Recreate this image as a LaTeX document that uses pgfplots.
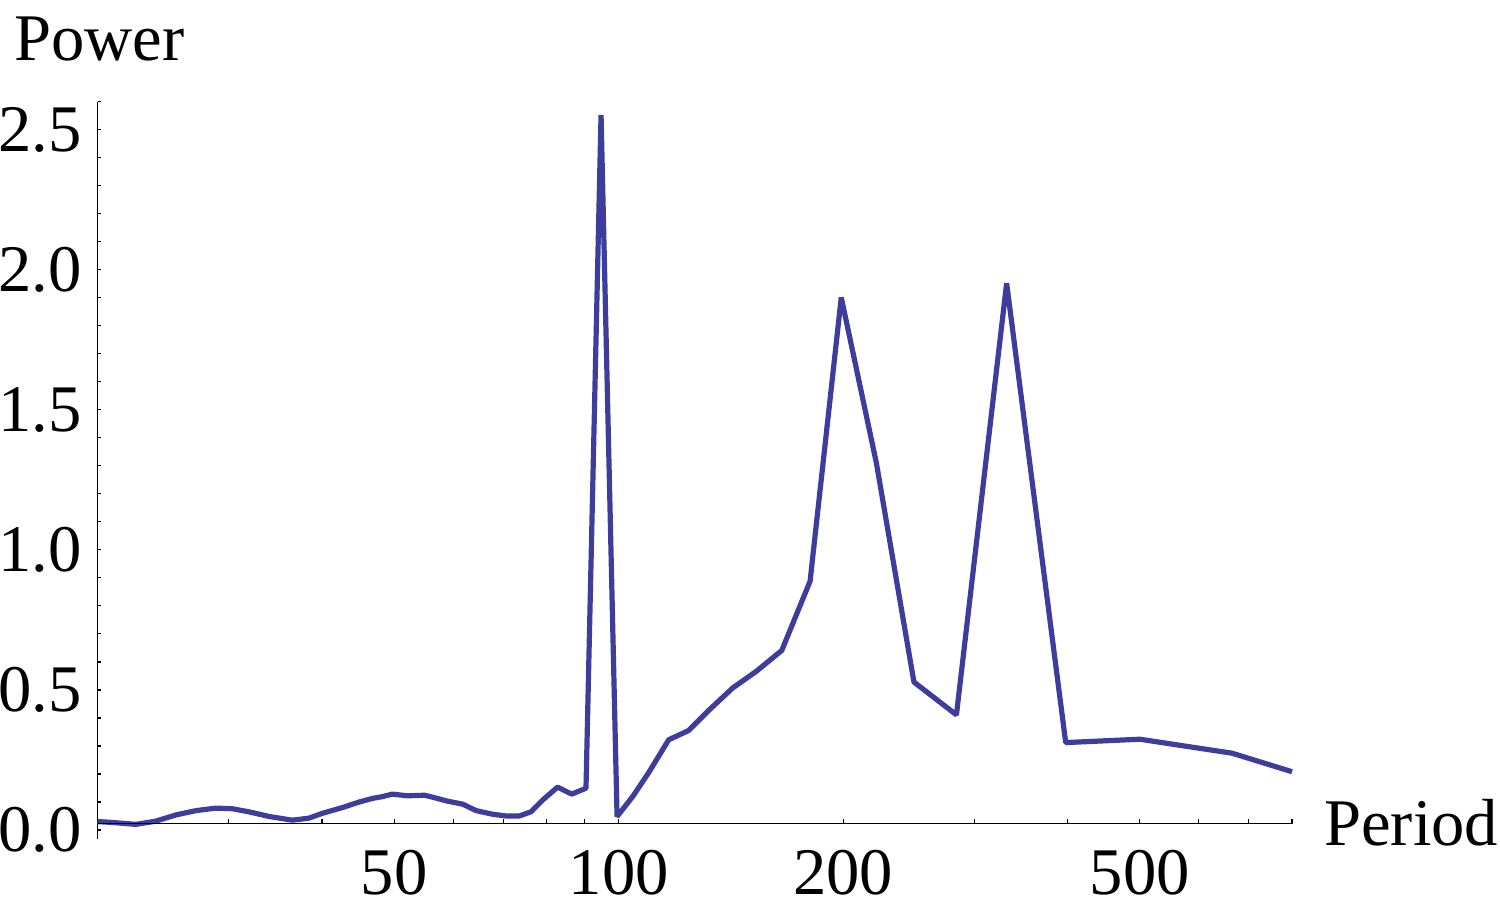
\documentclass[border=0pt]{standalone}
\usepackage{fontspec}
\setmainfont{Liberation Serif}
\usepackage{pgfplots}
\pgfplotsset{compat=1.18}
\definecolor{mmablue}{RGB}{61,61,155}
\begin{document}
\begin{tikzpicture}[font=\fontsize{33.3}{40}\selectfont]
\useasboundingbox (-48.75pt,-38pt) rectangle (701.25pt,419.5pt);
\begin{axis}[
  at={(0pt,0pt)}, anchor=south west,
  scale only axis, width=597.25pt, height=368.65pt,
  xmode=log, xmin=20, xmax=800,
  ymin=-0.0322, ymax=2.6,
  axis x line=none, axis y line=left,
  xtick=\empty,
  axis line style={-, line width=0.65pt, black},
  ytick={0,0.5,1,1.5,2,2.5},
  yticklabels={0.0,0.5,1.0,1.5,2.0,2.5},
  minor ytick={0.1,0.2,0.3,0.4,0.6,0.7,0.8,0.9,1.1,1.2,1.3,1.4,1.6,1.7,1.8,1.9,2.1,2.2,2.3,2.4,2.6},
  tick align=inside, major tick length=1.8pt, minor tick length=1.8pt,
  tick style={line width=0.6pt, black},
  yticklabel style={anchor=east, inner sep=0pt, xshift=-7.8pt, font=\fontsize{33.3}{40}\selectfont},
  clip=false,
]
\addplot[color=mmablue, line width=2.6pt, line join=bevel] coordinates {
(20,0.030) (20.9,0.027) (22.5,0.020) (23.9,0.031) (25.5,0.054) (27.1,0.069)
(28.8,0.078) (30.3,0.076) (31.9,0.065) (34.0,0.048) (36.5,0.035) (38.4,0.042)
(40.1,0.060) (42.6,0.080) (44.9,0.100) (46.8,0.113) (48.2,0.119) (49.7,0.128)
(52.1,0.122) (54.9,0.124) (56.3,0.117) (58.7,0.104) (61.8,0.092) (64.4,0.069)
(67.8,0.056) (70.6,0.050) (73.6,0.050) (76.3,0.065) (79.1,0.107) (82.8,0.153)
(86.5,0.128) (90.4,0.149) (94.7,2.553) (99.5,0.048) (104.4,0.119) (109.9,0.208)
(116.7,0.322) (124.1,0.355) (132.3,0.429) (142.2,0.507) (152.9,0.566) (165.5,0.641)
(180.6,0.888) (198.9,1.901) (221.6,1.311) (248.9,0.528) (283.8,0.411) (331.4,1.952)
(397.8,0.312) (500,0.324) (665,0.274) (800,0.208)
};
\end{axis}
\begin{axis}[
  at={(0pt,7.65pt)}, anchor=south west,
  scale only axis, width=597.25pt, height=20pt,
  xmode=log, xmin=20, xmax=800, ymin=0, ymax=1,
  axis x line=bottom, axis y line=none, ytick=\empty,
  axis line style={-, line width=0.65pt, black},
  xtick={50,100,200,500}, xticklabels={50,100,200,500},
  minor xtick={30,40,60,70,80,90,300,400,600,700,800},
  tick align=inside, major tick length=2.5pt, minor tick length=2.2pt,
  tick style={line width=0.6pt, black},
  xticklabel style={anchor=north, inner sep=0pt, yshift=-13pt, font=\fontsize{33.3}{40}\selectfont},
]
\end{axis}
\node[anchor=base west, inner sep=0pt] at (-41.75pt,389pt) {Power};
\node[anchor=base west, inner sep=0pt] at (613.2pt,-3.35pt) {Period};
\end{tikzpicture}
\end{document}
